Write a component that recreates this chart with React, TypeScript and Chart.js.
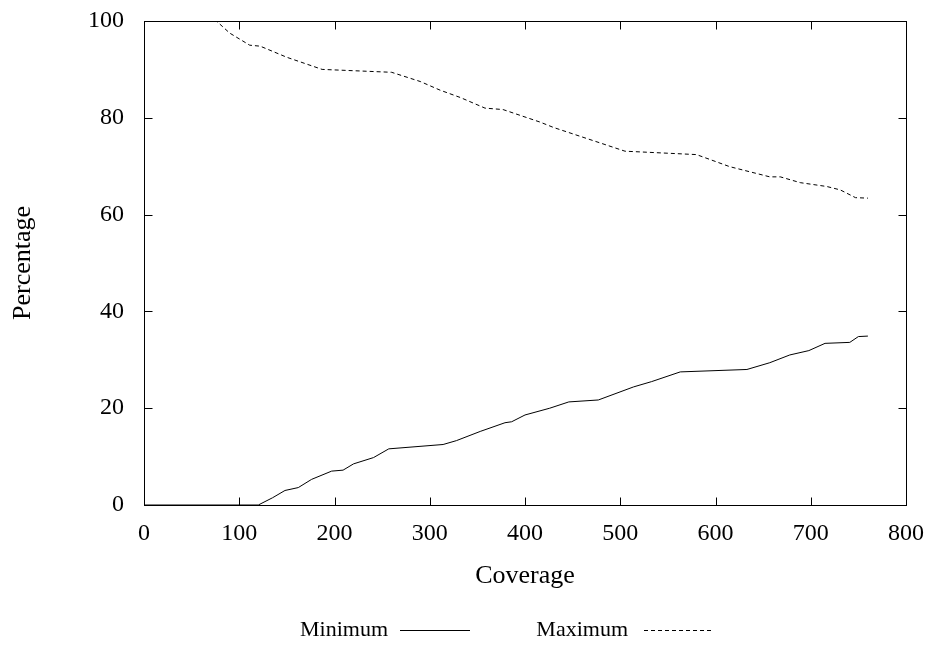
import React, { useEffect, useRef } from 'react';
import { Chart, registerables } from 'chart.js';

Chart.register(...registerables);

const FONT = '"Liberation Serif", "Times New Roman", Times, serif';
const TICK_SIZE = 24;
const TITLE_SIZE = 26;
const LEGEND_SIZE = 22;

const xTickValues = [0, 100, 200, 300, 400, 500, 600, 700, 800];
const yTickValues = [0, 20, 40, 60, 80, 100];

const minCoverage = [0, 120, 135, 148, 162, 176, 197, 209, 220, 241, 257, 314, 328, 353, 379, 386, 400, 426, 446, 477, 514, 533, 563, 633, 657, 678, 698, 715, 741, 750, 760];
const minPercent = [0, 0, 1.5, 3.0, 3.6, 5.3, 7.0, 7.2, 8.5, 9.8, 11.6, 12.5, 13.3, 15.2, 17.0, 17.2, 18.6, 20.0, 21.3, 21.7, 24.4, 25.5, 27.5, 28.0, 29.4, 31.0, 31.9, 33.4, 33.6, 34.8, 34.9];

const maxCoverage = [0, 76, 90, 111, 122, 150, 187, 260, 290, 311, 332, 358, 377, 416, 430, 505, 580, 615, 657, 668, 689, 717, 731, 747, 760];
const maxPercent = [100, 100, 97.5, 95, 94.8, 92.5, 90, 89.4, 87.5, 85.7, 84.2, 82.0, 81.7, 79.1, 78.0, 73.1, 72.4, 69.9, 67.8, 67.8, 66.6, 65.8, 65.1, 63.5, 63.4];

const seriesNames = ['Minimum', 'Maximum'];

const framePlugin = {
  id: 'frame',
  afterDraw(chart: any) {
    const { ctx, chartArea } = chart;
    const xs = chart.scales.x;
    const ys = chart.scales.y;
    const l = Math.round(chartArea.left) + 0.5;
    const r = Math.round(chartArea.right) + 0.5;
    const t = Math.round(chartArea.top) + 0.5;
    const b = Math.round(chartArea.bottom) + 0.5;
    ctx.save();
    ctx.strokeStyle = '#000';
    ctx.lineWidth = 1;
    ctx.setLineDash([]);
    ctx.strokeRect(l, t, r - l, b - t);
    const tl = 8;
    ctx.beginPath();
    xTickValues.forEach((v) => {
      const px = Math.round(xs.getPixelForValue(v)) + 0.5;
      ctx.moveTo(px, b);
      ctx.lineTo(px, b - tl);
      ctx.moveTo(px, t);
      ctx.lineTo(px, t + tl);
    });
    yTickValues.forEach((v) => {
      const py = Math.round(ys.getPixelForValue(v)) + 0.5;
      ctx.moveTo(l, py);
      ctx.lineTo(l + tl, py);
      ctx.moveTo(r, py);
      ctx.lineTo(r - tl, py);
    });
    ctx.stroke();

    // legend
    const ly = 630;
    ctx.font = `${LEGEND_SIZE}px ${FONT}`;
    ctx.fillStyle = '#000';
    ctx.textBaseline = 'middle';
    ctx.textAlign = 'right';
    ctx.fillText(seriesNames[0], 388, ly);
    ctx.fillText(seriesNames[1], 628, ly);
    ctx.beginPath();
    ctx.moveTo(400, ly + 0.5);
    ctx.lineTo(470, ly + 0.5);
    ctx.stroke();
    ctx.setLineDash([4, 3]);
    ctx.beginPath();
    ctx.moveTo(644, ly + 0.5);
    ctx.lineTo(714, ly + 0.5);
    ctx.stroke();
    ctx.restore();
  },
};

export default function App() {
  const ref = useRef<HTMLCanvasElement>(null);
  useEffect(() => {
    let chart: Chart | null = null;
    let cancelled = false;
    const P = 44;
    const build = () => {
      if (cancelled || !ref.current) return;
      chart = new Chart(ref.current, {
        type: 'scatter',
        data: {
          datasets: [
            {
              label: seriesNames[0],
              data: minCoverage.map((x, i) => ({ x, y: minPercent[i] })),
              showLine: true,
              borderColor: '#000',
              borderWidth: 1,
              pointRadius: 0,
              tension: 0,
              fill: false,
            },
            {
              label: seriesNames[1],
              data: maxCoverage.map((x, i) => ({ x, y: maxPercent[i] })),
              showLine: true,
              borderColor: '#000',
              borderWidth: 1,
              borderDash: [4, 3],
              pointRadius: 0,
              tension: 0,
              fill: false,
            },
          ],
        },
        options: {
          animation: false,
          responsive: false,
          devicePixelRatio: 1,
          layout: { padding: { top: 21, right: 27, bottom: P, left: 0 } },
          plugins: { legend: { display: false }, tooltip: { enabled: false } },
          scales: {
            x: {
              type: 'linear',
              min: 0,
              max: 800,
              afterBuildTicks: (s: any) => {
                s.ticks = xTickValues.map((v) => ({ value: v }));
              },
              ticks: { color: '#000', font: { family: FONT, size: TICK_SIZE }, padding: 14, maxRotation: 0, autoSkip: false },
              grid: { display: false, drawTicks: false },
              border: { display: false },
              title: { display: true, text: 'Coverage', color: '#000', font: { family: FONT, size: TITLE_SIZE }, padding: 10 },
              afterFit: (s: any) => {
                s.height = 646 - P - 505;
                s.paddingLeft = 0;
                s.paddingRight = 0;
              },
            },
            y: {
              type: 'linear',
              min: 0,
              max: 100,
              afterBuildTicks: (s: any) => {
                s.ticks = yTickValues.map((v) => ({ value: v }));
              },
              ticks: { color: '#000', font: { family: FONT, size: TICK_SIZE }, padding: 20, autoSkip: false },
              grid: { display: false, drawTicks: false },
              border: { display: false },
              title: { display: true, text: 'Percentage', color: '#000', font: { family: FONT, size: TITLE_SIZE }, padding: 8 },
              afterFit: (s: any) => {
                s.width = 144;
                s.paddingTop = 0;
                s.paddingBottom = 0;
              },
            },
          },
        },
        plugins: [framePlugin],
      });
    };
    const fonts: any = (document as any).fonts;
    if (fonts && fonts.load) {
      fonts.load(`${TICK_SIZE}px "Liberation Serif"`).then(build, build);
    } else {
      build();
    }
    return () => {
      cancelled = true;
      if (chart) chart.destroy();
    };
  }, []);
  return (
    <div style={{ position: 'absolute', left: 0, top: 0, width: 933, height: 646, background: '#fff', fontFamily: FONT }}>
      <canvas ref={ref} width={933} height={646} />
    </div>
  );
}
